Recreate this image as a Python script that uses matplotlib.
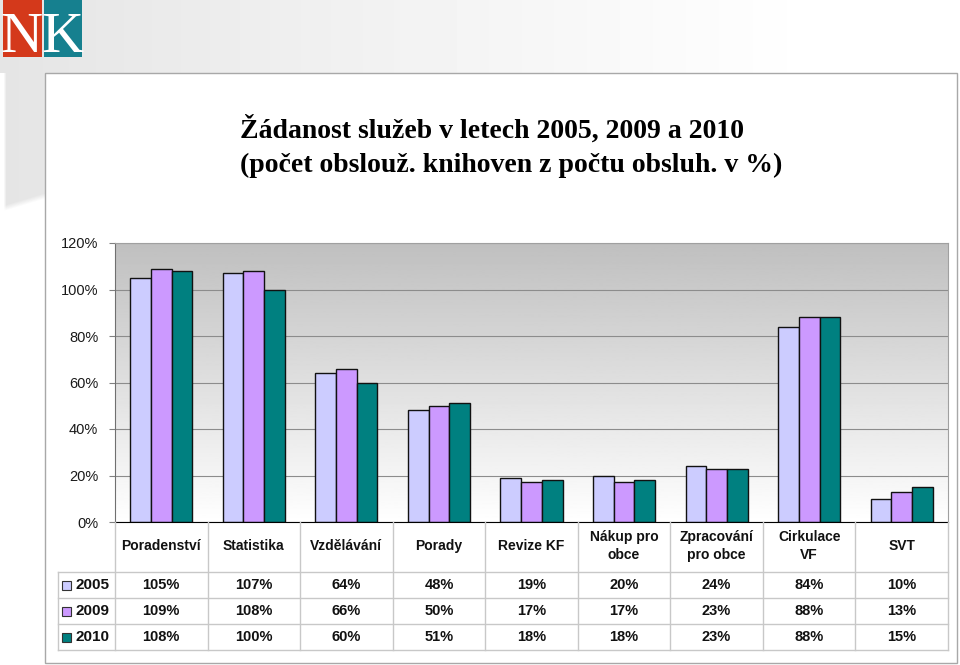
import matplotlib
matplotlib.use("Agg")
import matplotlib.pyplot as plt
import numpy as np
from matplotlib.patches import Rectangle
from matplotlib.lines import Line2D
import matplotlib.transforms as mtransforms

categories = ["Poradenství", "Statistika", "Vzdělávání", "Porady", "Revize KF",
              "Nákup pro\nobce", "Zpracování\npro obce", "Cirkulace\nVF", "SVT"]
years = ["2005", "2009", "2010"]
v2005 = [105, 107, 64, 48, 19, 20, 24, 84, 10]
v2009 = [109, 108, 66, 50, 17, 17, 23, 88, 13]
v2010 = [108, 100, 60, 51, 18, 18, 23, 88, 15]
yticks = [0, 20, 40, 60, 80, 100, 120]
colors = ["#CCCCFF", "#CC99FF", "#008080"]
title1 = "Žádanost služeb v letech 2005, 2009 a 2010"
title2 = "(počet obslouž. knihoven z počtu obsluh. v %)"

W, H = 960, 665
plt.rcParams['font.family'] = ['Liberation Sans', 'DejaVu Sans']
fig = plt.figure(figsize=(9.6, 6.65), dpi=100)


def fx(px):
    return px / W


def fy(py):
    return 1 - py / H


# ---- slide background ----
bg = fig.add_axes([0, 0, 1, 1], zorder=-10)
bg.set_axis_off()
xx, yy = np.meshgrid(np.arange(W), np.arange(H))
shade = 0.895 + 0.105 * np.clip(xx / 820.0, 0, 1) ** 0.9
edge = 212 - 0.3 * np.clip(xx, 0, 45)
soft = np.clip((edge - yy) / 6.0, 0, 1)
left = np.clip((xx - 3) / 3.0, 0, 1)
amount = soft * np.where(yy < 73, 1.0, left)
img = 1.0 - (1.0 - shade) * amount
bg.imshow(img, cmap='gray', vmin=0, vmax=1, extent=[0, W, H, 0], aspect='auto',
          interpolation='bilinear')
bg.set_xlim(0, W)
bg.set_ylim(H, 0)
bg.add_patch(Rectangle((45, 73), 912, 590, facecolor='white', edgecolor='#a8a8a8', lw=1))

# logo
red = Rectangle((3, 0), 39, 57, facecolor='#D4391B', edgecolor='none')
teal = Rectangle((44, 0), 38, 57, facecolor='#16808F', edgecolor='none')
bg.add_patch(red)
bg.add_patch(teal)
tn = bg.text(21, 52, "N", color='white', fontsize=42, family='Liberation Serif',
             ha='center', va='baseline')
tn.set_clip_path(red)
tk = bg.text(62, 52, "K", color='white', fontsize=42, family='Liberation Serif',
             ha='center', va='baseline')
tk.set_clip_path(teal)

# ---- title ----
fig.text(fx(240), fy(138), title1, fontsize=20, fontweight='bold',
         family='Liberation Serif', va='baseline')
fig.text(fx(240), fy(172), title2, fontsize=20, fontweight='bold',
         family='Liberation Serif', va='baseline')

# ---- plot ----
ax = fig.add_axes([fx(115), fy(522), fx(948) - fx(115), (522 - 243) / H])
ax.set_xlim(-0.5, 8.5)
ax.set_ylim(0, 120)
grad = np.linspace(0.75, 1.0, 256)[:, None]
ax.imshow(grad, cmap='gray', vmin=0, vmax=1, extent=[-0.5, 8.5, 0, 120],
          aspect='auto', zorder=0.1, origin='upper')
ax.set_yticks(yticks)
ax.set_yticklabels([f"{t}%" for t in yticks])
ax.yaxis.grid(True, color='#8c8c8c', lw=0.8)
ax.set_axisbelow(True)
ax.set_xticks([])
ax.tick_params(axis='y', length=4, color='#808080', labelsize=10.5, labelcolor='#1a1a1a', pad=8)
for s in ['top', 'right']:
    ax.spines[s].set_color('#a0a0a0')
ax.spines['left'].set_color('#707070')
ax.spines['bottom'].set_color('#000000')

x = np.arange(len(categories))
bw = 0.224
for k, (vals, col) in enumerate(zip([v2005, v2009, v2010], colors)):
    ax.bar(x + (k - 1) * bw, vals, bw, color=col, edgecolor='#111111', lw=1, zorder=2)

# ---- data table ----
trans = mtransforms.blended_transform_factory(ax.transData, fig.transFigure)
tcol = '#c8c8c8'
for xb in np.arange(-0.5, len(categories) + 0.5, 1):
    fig.add_artist(Line2D([xb, xb], [fy(522), fy(650)], transform=trans, color=tcol, lw=1))
x1 = ax.get_position().x1
for yl in [572, 598, 624, 650]:
    fig.add_artist(Line2D([fx(58), x1], [fy(yl), fy(yl)], transform=fig.transFigure,
                          color=tcol, lw=1))
fig.add_artist(Line2D([fx(58), fx(58)], [fy(572), fy(650)], transform=fig.transFigure,
                      color=tcol, lw=1))

for i, c in enumerate(categories):
    ax.text(i, fy(546), c, transform=trans, ha='center', va='center', fontsize=10,
            fontweight='bold', linespacing=1.3, clip_on=False, color='#111111')

rows_y = [585, 611, 637]
for r, (yr, vals, col) in enumerate(zip(years, [v2005, v2009, v2010], colors)):
    yc = rows_y[r]
    for i, v in enumerate(vals):
        ax.text(i, fy(yc), f"{v}%", transform=trans, ha='center', va='center',
                fontsize=10.5, fontweight='bold', clip_on=False, color='#111111')
    bg.add_patch(Rectangle((62, yc - 4.5), 9, 9, facecolor=col, edgecolor='#333333', lw=0.8))
    fig.text(fx(75), fy(yc), yr, ha='left', va='center', fontsize=11, fontweight='bold',
             color='#111111')

fig.savefig("out.png", dpi=100)
